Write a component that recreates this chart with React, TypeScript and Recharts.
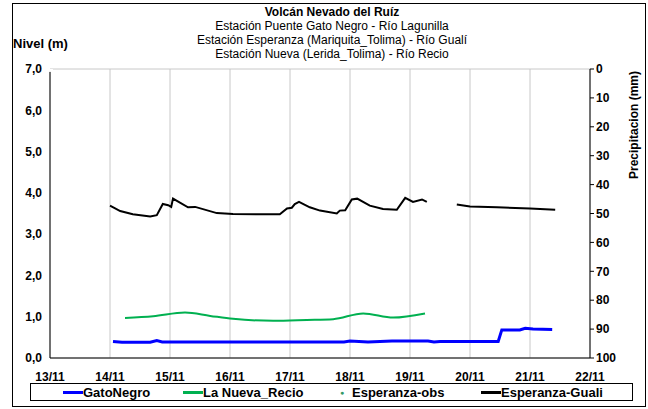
import { LineChart, Line, XAxis, YAxis, CartesianGrid, Legend } from 'recharts'

// days counted from 13/11 00:00
const dayTicks = [0, 1, 2, 3, 4, 5, 6, 7, 8, 9]
const nivelTicks = [0, 0.5, 1, 1.5, 2, 2.5, 3, 3.5, 4, 4.5, 5, 5.5, 6, 6.5, 7]
const precipTicks = [0, 10, 20, 30, 40, 50, 60, 70, 80, 90, 100]

const gatoNegro = [
  { t: 1.05, v: 0.4 }, { t: 1.2, v: 0.38 }, { t: 1.67, v: 0.38 }, { t: 1.78, v: 0.42 },
  { t: 1.87, v: 0.39 }, { t: 4.9, v: 0.39 }, { t: 5.0, v: 0.41 }, { t: 5.3, v: 0.39 },
  { t: 5.7, v: 0.41 }, { t: 6.3, v: 0.41 }, { t: 6.4, v: 0.39 }, { t: 6.5, v: 0.4 },
  { t: 7.47, v: 0.4 }, { t: 7.53, v: 0.68 }, { t: 7.83, v: 0.68 }, { t: 7.92, v: 0.72 },
  { t: 8.05, v: 0.7 }, { t: 8.37, v: 0.69 },
]

const nuevaRecio = [
  { t: 1.25, v: 0.97 }, { t: 1.72, v: 1.01 }, { t: 2.25, v: 1.1 }, { t: 2.67, v: 1.02 },
  { t: 3.05, v: 0.95 }, { t: 3.72, v: 0.9 }, { t: 4.28, v: 0.92 }, { t: 4.72, v: 0.94 },
  { t: 5.22, v: 1.08 }, { t: 5.72, v: 0.98 }, { t: 6.25, v: 1.08 },
]

const esperanzaObs: { t: number; v: number }[] = []

const esperanzaGuali = [
  { t: 1.0, v: 3.69 }, { t: 1.17, v: 3.56 }, { t: 1.38, v: 3.48 }, { t: 1.67, v: 3.43 },
  { t: 1.78, v: 3.46 }, { t: 1.88, v: 3.73 }, { t: 1.97, v: 3.7 }, { t: 2.02, v: 3.66 },
  { t: 2.05, v: 3.86 }, { t: 2.3, v: 3.65 }, { t: 2.42, v: 3.66 }, { t: 2.78, v: 3.51 },
  { t: 3.05, v: 3.49 }, { t: 3.55, v: 3.48 }, { t: 3.83, v: 3.48 }, { t: 3.95, v: 3.62 },
  { t: 4.03, v: 3.64 }, { t: 4.08, v: 3.73 }, { t: 4.15, v: 3.78 }, { t: 4.33, v: 3.65 },
  { t: 4.5, v: 3.57 }, { t: 4.78, v: 3.5 }, { t: 4.83, v: 3.57 }, { t: 4.92, v: 3.58 },
  { t: 5.03, v: 3.84 }, { t: 5.12, v: 3.86 }, { t: 5.33, v: 3.69 }, { t: 5.55, v: 3.61 },
  { t: 5.78, v: 3.59 }, { t: 5.92, v: 3.88 }, { t: 6.05, v: 3.78 }, { t: 6.2, v: 3.84 },
  { t: 6.28, v: 3.78 }, { t: 6.5, v: null }, { t: 6.78, v: 3.72 }, { t: 7.0, v: 3.67 },
  { t: 7.45, v: 3.65 }, { t: 8.0, v: 3.62 }, { t: 8.42, v: 3.59 },
]

// no rain recorded in this period, the axis is kept
const precipitacion = [{ t: 0, p: 0 }]

const legendItems = [
  { name: 'GatoNegro', color: '#0000ff', kind: 'line', x: 32 },
  { name: 'La Nueva_Recio', color: '#00b050', kind: 'line', x: 152 },
  { name: 'Esperanza-obs', color: '#339966', kind: 'dot', x: 307 },
  { name: 'Esperanza-Guali', color: '#000000', kind: 'line', x: 450 },
]

const font = '"Liberation Sans", Arial, sans-serif'
const tickStyle = { fontSize: 12, fontWeight: 700, fill: '#000', fontFamily: font }

const fmtNivel = (v: number) => (Number.isInteger(v) ? v.toFixed(1).replace('.', ',') : '')
const fmtDay = (d: number) => `${13 + d}/11`

const LegendBox = () => (
  <div
    style={{
      position: 'relative',
      border: '1px solid #000',
      height: 18,
      width: 603,
      fontFamily: font,
      fontSize: 13,
      fontWeight: 700,
      boxSizing: 'border-box',
    }}
  >
    {legendItems.map((it) => (
      <div key={it.name} style={{ position: 'absolute', left: it.x, top: 0, display: 'flex', alignItems: 'center', height: 16, whiteSpace: 'nowrap' }}>
        {it.kind === 'line' ? (
          <span style={{ display: 'inline-block', width: 20, height: 3, background: it.color }} />
        ) : (
          <span style={{ display: 'inline-block', width: 8, textAlign: 'center', color: it.color, marginRight: 6, fontSize: 7 }}>●</span>
        )}
        {it.name}
      </div>
    ))}
  </div>
)

export default function App() {
  return (
    <div style={{ position: 'absolute', left: 0, top: 0, width: 648, height: 409, background: '#fff', fontFamily: font }}>
      <div style={{ position: 'absolute', left: 12, top: 3, width: 634, height: 404, border: '1px solid #000', boxSizing: 'border-box' }} />
      <div style={{ position: 'absolute', left: 0, top: 5, width: 664, textAlign: 'center', fontSize: 12, lineHeight: '14px', color: '#000' }}>
        <div style={{ fontWeight: 700 }}>Volcán Nevado del Ruíz</div>
        <div>Estación Puente Gato Negro - Río Lagunilla</div>
        <div>Estación Esperanza (Mariquita_Tolima) - Río Gualí</div>
        <div>Estación Nueva (Lerida_Tolima) - Río Recio</div>
      </div>
      <div style={{ position: 'absolute', left: 13, top: 36, fontSize: 13, fontWeight: 700 }}>Nivel (m)</div>
      <div
        style={{
          position: 'absolute',
          left: 634,
          top: 125,
          transform: 'translate(-50%, -50%) rotate(-90deg)',
          whiteSpace: 'nowrap',
          fontSize: 12,
          fontWeight: 700,
        }}
      >
        Precipitacion (mm)
      </div>
      <LineChart
        width={648}
        height={409}
        margin={{ top: 69, right: 0, left: 0, bottom: 27 }}
        style={{ position: 'absolute', left: 0, top: 0 }}
      >
        <CartesianGrid stroke="#c8c8c8" strokeWidth={1} />
        <XAxis
          type="number"
          dataKey="t"
          domain={[0, 9]}
          ticks={dayTicks}
          tickFormatter={fmtDay}
          tick={tickStyle}
          tickLine={false}
          tickMargin={8}
          axisLine={{ stroke: '#000' }}
          height={24}
          allowDuplicatedCategory={false}
        />
        <YAxis
          yAxisId="left"
          domain={[0, 7]}
          ticks={nivelTicks}
          tickFormatter={fmtNivel}
          tick={tickStyle}
          tickLine={false}
          axisLine={{ stroke: '#000' }}
          width={50}
          interval={0}
        />
        <YAxis
          yAxisId="right"
          orientation="right"
          reversed
          type="number"
          domain={[0, 100]}
          allowDataOverflow
          ticks={precipTicks}
          tick={tickStyle}
          tickSize={4}
          axisLine={{ stroke: '#000' }}
          tickLine={{ stroke: '#000' }}
          width={58}
          interval={0}
        />
        <Legend
          layout="horizontal"
          verticalAlign="middle"
          align="center"
          content={() => <LegendBox />}
          wrapperStyle={{ position: 'absolute', top: 383, left: 30, width: 603 }}
        />
        <Line yAxisId="right" data={precipitacion} dataKey="p" stroke="none" dot={false} legendType="none" isAnimationActive={false} />
        <Line yAxisId="left" data={gatoNegro} dataKey="v" name="GatoNegro" stroke="#0000ff" strokeWidth={3} dot={false} type="linear" isAnimationActive={false} />
        <Line yAxisId="left" data={nuevaRecio} dataKey="v" name="La Nueva_Recio" stroke="#00b050" strokeWidth={2} dot={false} type="monotone" isAnimationActive={false} />
        <Line yAxisId="left" data={esperanzaObs} dataKey="v" name="Esperanza-obs" stroke="#339966" strokeWidth={0} dot={{ r: 1 }} isAnimationActive={false} />
        <Line yAxisId="left" data={esperanzaGuali} dataKey="v" name="Esperanza-Guali" stroke="#000" strokeWidth={2} dot={false} type="linear" connectNulls={false} isAnimationActive={false} />
      </LineChart>
    </div>
  )
}
